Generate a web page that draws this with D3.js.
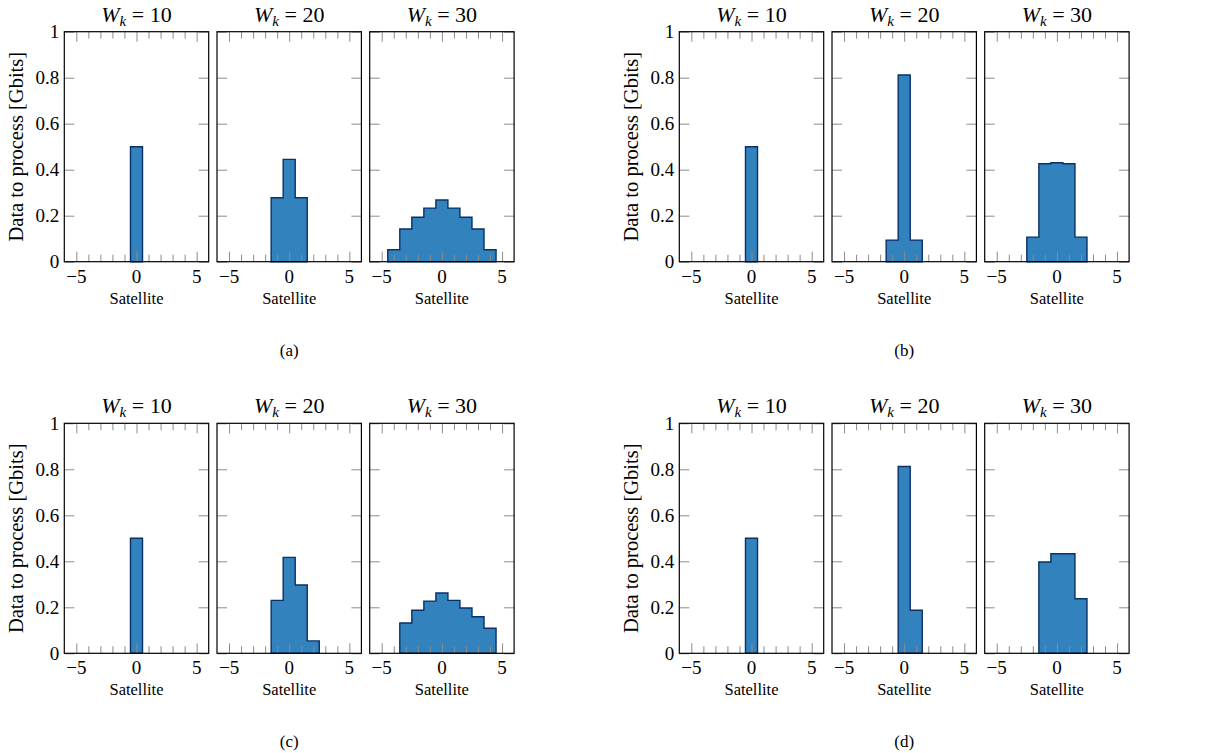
<!DOCTYPE html>
<html>
<head>
<meta charset="utf-8">
<script src="https://cdn.jsdelivr.net/npm/d3@7"></script>
<style>
  body { margin: 0; background: #fff; }
</style>
</head>
<body>
<div id="chart"></div>
<script>
// window sizes shown in each subfigure (one panel per window)
var windows = [10, 20, 30];
var subfigLabels = ["(a)", "(b)", "(c)", "(d)"];
var yTicks = [0, 0.2, 0.4, 0.6, 0.8, 1];
var xMajor = [-5, 0, 5];
var xMinor = [-4, -3, -2, -1, 1, 2, 3, 4];

// satellite indices (bins) and data to process per subfigure, per window
var binsA = [[0], [-1, 0, 1], [-4, -3, -2, -1, 0, 1, 2, 3, 4]];
var valsA = [[0.5], [0.278, 0.445, 0.278], [0.052, 0.142, 0.193, 0.233, 0.268, 0.233, 0.193, 0.142, 0.052]];

var binsB = [[0], [-1, 0, 1], [-2, -1, 0, 1, 2]];
var valsB = [[0.5], [0.094, 0.812, 0.094], [0.107, 0.426, 0.430, 0.426, 0.107]];

var binsC = [[0], [-1, 0, 1, 2], [-3, -2, -1, 0, 1, 2, 3, 4]];
var valsC = [[0.5], [0.230, 0.417, 0.297, 0.054], [0.132, 0.187, 0.227, 0.262, 0.230, 0.197, 0.159, 0.109]];

var binsD = [[0], [0, 1], [-1, 0, 1, 2]];
var valsD = [[0.5], [0.812, 0.187], [0.397, 0.433, 0.433, 0.237]];

var subfigs = [
  {bins: binsA, vals: valsA},
  {bins: binsB, vals: valsB},
  {bins: binsC, vals: valsC},
  {bins: binsD, vals: valsD}
];

var width = 1214, height = 753;
var groupX = [0, 615], rowY = [31.7, 423.3];
var panelLeft = 64.3, panelStep = 152.7, pw = 144.4, ph = 230;
var serif = "'Liberation Serif', 'DejaVu Serif', 'Times New Roman', Times, serif";

var svg = d3.select("#chart").append("svg")
    .attr("width", width)
    .attr("height", height)
    .attr("font-family", serif);

var x = d3.scaleLinear().domain([-6, 6]).range([0, pw]);
var y = d3.scaleLinear().domain([0, 1]).range([ph, 0]);

var line = d3.line()
    .x(function(d) { return x(d[0]); })
    .y(function(d) { return y(d[1]); });

subfigs.forEach(function(sf, s) {
  var gx = groupX[s % 2], gy = rowY[Math.floor(s / 2)];
  var g = svg.append("g").attr("transform", "translate(" + gx + "," + gy + ")");

  windows.forEach(function(w, p) {
    var px = panelLeft + p * panelStep;
    var panel = g.append("g").attr("transform", "translate(" + px + ",0)");

    // step outline of the histogram
    var pts = [];
    var bins = sf.bins[p], vals = sf.vals[p];
    pts.push([bins[0] - 0.5, 0]);
    bins.forEach(function(b, i) {
      pts.push([b - 0.5, vals[i]]);
      pts.push([b + 0.5, vals[i]]);
    });
    pts.push([bins[bins.length - 1] + 0.5, 0]);

    panel.append("path")
        .datum(pts)
        .attr("d", function(d) { return line(d) + "Z"; })
        .attr("fill", "#3182bd")
        .attr("stroke", "#0b3068")
        .attr("stroke-width", 1.4)
        .attr("stroke-linejoin", "miter");

    // ticks (inside, on top of bars)
    var tickCol = "#8c8c8c";
    function xTicks(vals, len) {
      panel.append("g").attr("transform", "translate(0," + ph + ")")
          .call(d3.axisBottom(x).tickValues(vals).tickSize(-len).tickFormat(""))
          .call(function(a) { a.select(".domain").remove(); a.selectAll("line").attr("stroke", tickCol); });
      panel.append("g")
          .call(d3.axisTop(x).tickValues(vals).tickSize(-len).tickFormat(""))
          .call(function(a) { a.select(".domain").remove(); a.selectAll("line").attr("stroke", tickCol); });
    }
    xTicks(xMinor, 7);
    xTicks(xMajor, 10);
    panel.append("g")
        .call(d3.axisLeft(y).tickValues(yTicks).tickSize(-10).tickFormat(""))
        .call(function(a) { a.select(".domain").remove(); a.selectAll("line").attr("stroke", tickCol); });
    panel.append("g").attr("transform", "translate(" + pw + ",0)")
        .call(d3.axisRight(y).tickValues(yTicks).tickSize(-10).tickFormat(""))
        .call(function(a) { a.select(".domain").remove(); a.selectAll("line").attr("stroke", tickCol); });

    // frame
    panel.append("rect")
        .attr("width", pw).attr("height", ph)
        .attr("fill", "none").attr("stroke", "#000").attr("stroke-width", 1.2);

    // x tick labels
    panel.selectAll(".xl").data(xMajor).enter().append("text")
        .attr("x", function(d) { return x(d); })
        .attr("y", ph + 21)
        .attr("text-anchor", "middle")
        .attr("font-size", 19)
        .text(function(d) { return d < 0 ? "\u2212" + Math.abs(d) : d; });

    panel.append("text")
        .attr("x", pw / 2).attr("y", ph + 42)
        .attr("text-anchor", "middle")
        .attr("font-size", 16.5)
        .text("Satellite");

    // title
    var t = panel.append("text")
        .attr("x", pw / 2).attr("y", -10)
        .attr("text-anchor", "middle")
        .attr("font-size", 22);
    t.append("tspan").attr("font-style", "italic").text("W");
    t.append("tspan").attr("font-style", "italic").attr("font-size", 15).attr("dy", 4).text("k");
    t.append("tspan").attr("dy", -4).text(" = " + w);

    if (p === 0) {
      panel.selectAll(".yl").data(yTicks).enter().append("text")
          .attr("x", -5)
          .attr("y", function(d) { return y(d); })
          .attr("dy", "0.35em")
          .attr("text-anchor", "end")
          .attr("font-size", 19)
          .text(function(d) { return d; });
      panel.append("text")
          .attr("transform", "translate(-41," + (ph / 2) + ") rotate(-90)")
          .attr("text-anchor", "middle")
          .attr("font-size", 20.5)
          .text("Data to process [Gbits]");
    }
  });

  g.append("text")
      .attr("x", panelLeft + panelStep + pw / 2)
      .attr("y", ph + 94)
      .attr("text-anchor", "middle")
      .attr("font-size", 17)
      .text(subfigLabels[s]);
});
</script>
</body>
</html>
